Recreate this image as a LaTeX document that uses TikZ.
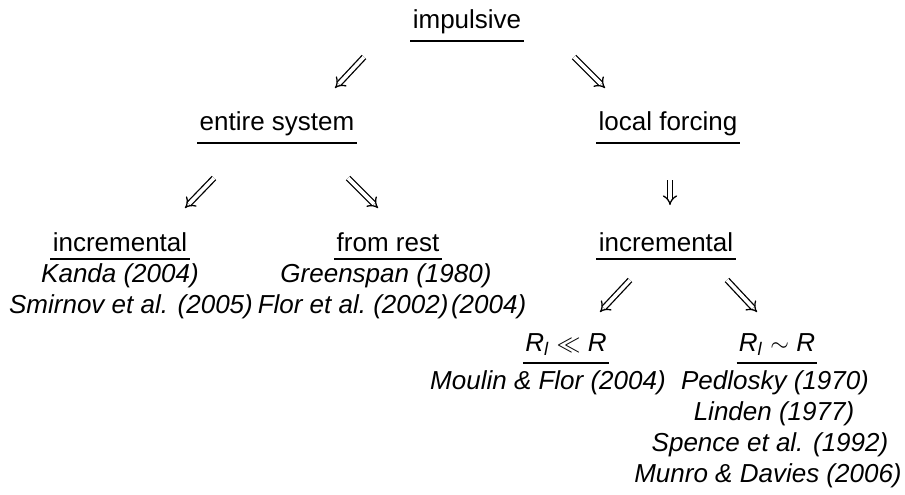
\documentclass[tikz,border=0pt]{standalone}
\usepackage{fontspec}
\setmainfont{Liberation Sans}       % police sans empattement
\usepackage{amsmath,amssymb}
\usetikzlibrary{arrows.meta,        % pointes de fleches doubles
                positioning}
\tikzset{
  titre/.style={inner sep=0pt,anchor=base},
  ref/.style={inner sep=0pt,anchor=base,font=\fontsize{13}{15.5}\selectfont\itshape},
  trait/.style={line width=0.9pt},
  fleche/.style={double,double distance=1.8pt,line width=0.65pt,-{Implies}}
}
\newcommand{\Rl}{\textit{R}\textsubscript{\textit{l}}}

\begin{document}
\begin{tikzpicture}[x=0.5pt,y=-0.5pt,font=\fontsize{13}{15.5}\selectfont]
    \useasboundingbox (0,0) rectangle (905,494);
    % titres
    \node[titre](imp)at(467,28){impulsive};
    \node[titre](ent)at(277,130){entire system};
    \node[titre](loc)at(668,130){local forcing};
    \node[titre](incA)at(120,251){incremental};
    \node[titre](rest)at(388,251){from rest};
    \node[titre](incB)at(666,251){incremental};
    \node[titre](ll)at(566,351){\Rl\ $\ll$ \textit{R}};
    \node[titre](sim)at(777,351){\Rl\ $\sim$ \textit{R}};
    \foreach \n in {imp,ent,loc,incA,rest,incB,ll,sim}
        \draw[trait] ([shift={(-1pt,-3.5pt)}]\n.south west)--([shift={(1pt,-3.5pt)}]\n.south east);
    % references
    \node[ref](kan)at(120,282){Kanda (2004)};
    \node[ref](smi)at(131,313){Smirnov et al. (2005)};
    \node[ref](gre)at(386,282){Greenspan (1980)};
    \node[ref](flo)at(392,313){\frenchspacing Flor et al. (2002)\hspace{0.1em}(2004)};
    \node[ref](mou)at(548,389){Moulin \& Flor (2004)};
    \node[ref](ped)at(775,389){Pedlosky (1970)};
    \node[ref](lin)at(774,420){Linden (1977)};
    \node[ref](spe)at(770,451){Spence et al. (1992)};
    \node[ref](mun)at(768,482){Munro \& Davies (2006)};
    % fleches
    \draw[fleche] (imp.base)++(-103,29)--++(-29,31);
    \draw[fleche] (imp.base)++(107,29)--++(31,31);
    \draw[fleche] (ent.base)++(-63,48)--++(-29,30);
    \draw[fleche] (ent.base)++(71,48)--++(30,30);
    \draw[fleche] (loc.base)++(2,50)--++(0,25);
    \draw[fleche] (incB.base)++(-36,29)--++(-30,32);
    \draw[fleche] (incB.base)++(61,29)--++(30,32);
\end{tikzpicture}
\end{document}
